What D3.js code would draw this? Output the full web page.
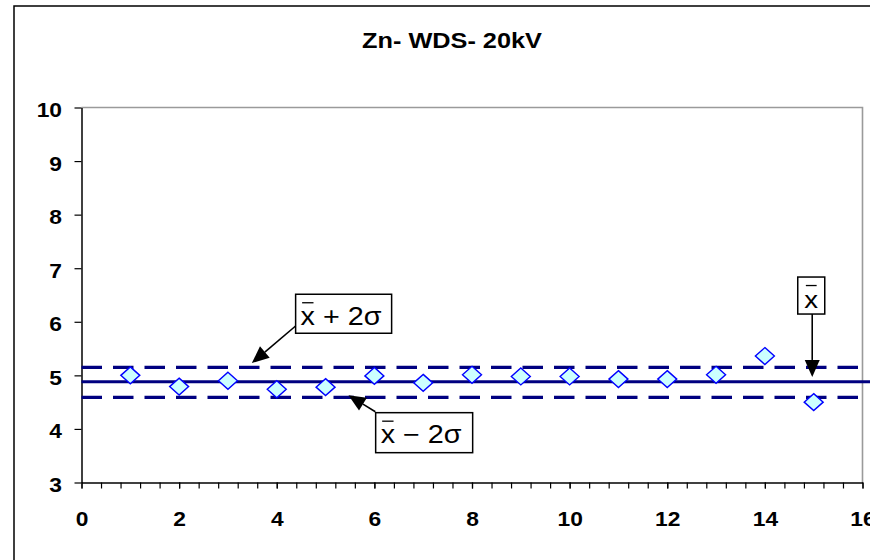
<!DOCTYPE html>
<html><head><meta charset="utf-8">
<script src="https://cdn.jsdelivr.net/npm/d3@7"></script>
<style>
body{margin:0;background:#fff}
svg{display:block}
text{font-family:"Liberation Sans",Arial,sans-serif;fill:#000}
</style>
</head><body>
<svg id="c" width="870" height="560"></svg>
<script>
// ---- data ----
const chartTitle = "Zn- WDS- 20kV";
const runs = [1, 2, 3, 4, 5, 6, 7, 8, 9, 10, 11, 12, 13, 14, 15];
const values = [5.00, 4.79, 4.90, 4.74, 4.78, 4.99, 4.86, 5.01, 4.98, 4.98, 4.93, 4.93, 5.01, 5.36, 4.50];
const meanValue = 4.88;
const upperValue = 5.15;
const lowerValue = 4.59;
const xTickValues = [0, 2, 4, 6, 8, 10, 12, 14, 16];
const yTickValues = [3, 4, 5, 6, 7, 8, 9, 10];
const xMinorStep = 0.4;
const annotationLabels = ["+ 2σ", "− 2σ", ""];
const annotationBoxCenters = [[5.37, 6.15], [7.02, 3.93], [14.95, 6.49]];
const annotationArrowFrom = [[4.41, 5.94], [6.02, 4.32], [14.97, 6.15]];
const annotationArrowTo = [[3.49, 5.23], [5.47, 4.63], [14.97, 4.97]];

// ---- setup ----
const W = 870, H = 560;
const svg = d3.select("#c");
const x = d3.scaleLinear().domain([0, 16]).range([81.5, 862.5]);
const y = d3.scaleLinear().domain([3, 10]).range([482.5, 107.5]);
const SX = 1.14;

// outer chart border (extends past the window)
svg.append("rect").attr("x", 14).attr("y", 6).attr("width", W + 40).attr("height", H + 40)
  .attr("fill", "#fff").attr("stroke", "#000").attr("stroke-width", 1.5);

// plot area border (grey top & right)
svg.append("path")
  .attr("d", `M${x(0)},${y(10)}H${x(16)}V${y(3)}`)
  .attr("fill", "none").attr("stroke", "#9a9a9a").attr("stroke-width", 1.6);

function stretchedText(px, py, str, size, weight, anchor, sx) {
  const g = svg.append("g").attr("transform", `translate(${px},${py}) scale(${sx},1)`);
  return g.append("text").attr("text-anchor", anchor).attr("font-size", size)
    .attr("font-weight", weight).text(str);
}

// title
stretchedText(452, 48, chartTitle, 22, "bold", "middle", 1.15);

// y axis
const yAxis = svg.append("g").attr("transform", `translate(${x(0)},0)`)
  .call(d3.axisLeft(y).tickValues(yTickValues).tickSize(7).tickSizeOuter(0).tickFormat(d3.format("d")));
yAxis.select(".domain").attr("stroke", "#000").attr("stroke-width", 1.5);
yAxis.selectAll(".tick line").attr("stroke", "#000").attr("stroke-width", 1.2);
yAxis.selectAll(".tick text")
  .attr("font-size", 20).attr("font-weight", "bold").attr("font-family", '"Liberation Sans",Arial,sans-serif')
  .attr("fill", "#000").attr("x", -19.5 / SX).attr("dy", "0.45em")
  .attr("transform", `scale(${SX},1)`);

// x axis minor ticks
const xMinor = d3.range(0, 16 + 1e-9, xMinorStep);
const xAxisMinor = svg.append("g").attr("transform", `translate(0,${y(3)})`)
  .call(d3.axisBottom(x).tickValues(xMinor).tickSize(6).tickSizeOuter(0).tickFormat(""));
xAxisMinor.select(".domain").attr("stroke", "#000").attr("stroke-width", 1.5);
xAxisMinor.selectAll(".tick line").attr("stroke", "#000").attr("stroke-width", 1.2);

// x axis major labels
const xAxisMajor = svg.append("g").attr("transform", `translate(0,${y(3)})`)
  .call(d3.axisBottom(x).tickValues(xTickValues).tickSize(6).tickSizeOuter(0).tickFormat(d3.format("d")));
xAxisMajor.select(".domain").remove();
xAxisMajor.selectAll(".tick line").attr("stroke", "#000").attr("stroke-width", 1.2);
xAxisMajor.selectAll(".tick text")
  .attr("font-size", 20).attr("font-weight", "bold").attr("font-family", '"Liberation Sans",Arial,sans-serif')
  .attr("fill", "#000").attr("y", 43.5).attr("dy", 0)
  .attr("transform", `scale(${SX},1)`);

// reference lines
const navy = "#000080";
svg.append("line").attr("x1", x(0)).attr("x2", W).attr("y1", y(meanValue)).attr("y2", y(meanValue))
  .attr("stroke", navy).attr("stroke-width", 3);
[upperValue, lowerValue].forEach(v => {
  svg.append("line").attr("x1", x(0)).attr("x2", x(16)).attr("y1", y(v)).attr("y2", y(v))
    .attr("stroke", navy).attr("stroke-width", 3.2).attr("stroke-dasharray", "20.5,11");
});

// points
svg.append("g").selectAll("path").data(runs.map((r, i) => [r, values[i]])).join("path")
  .attr("transform", d => `translate(${x(d[0])},${y(d[1])})`)
  .attr("d", "M0,-8.5L9.5,0L0,8.5L-9.5,0Z")
  .attr("fill", "#CCFFFF").attr("stroke", "#0000FF").attr("stroke-width", 1.4);

// annotations
const boxSizes = [[96, 39], [97, 40], [27, 37]];
annotationLabels.forEach((lab, i) => {
  // arrow
  const [fx, fy] = [x(annotationArrowFrom[i][0]), y(annotationArrowFrom[i][1])];
  const [tx, ty] = [x(annotationArrowTo[i][0]), y(annotationArrowTo[i][1])];
  const ang = Math.atan2(ty - fy, tx - fx);
  const hl = 17, hw = 7.5;
  const bx = tx - hl * Math.cos(ang), by = ty - hl * Math.sin(ang);
  svg.append("line").attr("x1", fx).attr("y1", fy).attr("x2", bx).attr("y2", by)
    .attr("stroke", "#000").attr("stroke-width", 1.6);
  const px = -Math.sin(ang), py = Math.cos(ang);
  svg.append("path")
    .attr("d", `M${tx},${ty}L${bx + hw * px},${by + hw * py}L${bx - hw * px},${by - hw * py}Z`)
    .attr("fill", "#000");

  // box
  const [cx, cy] = [x(annotationBoxCenters[i][0]), y(annotationBoxCenters[i][1])];
  const [bw, bh] = boxSizes[i];
  const left = cx - bw / 2, top = cy - bh / 2;
  svg.append("rect").attr("x", left).attr("y", top).attr("width", bw).attr("height", bh)
    .attr("fill", "#fff").attr("stroke", "#000").attr("stroke-width", 1.5);

  const fs = lab ? 25 : 24;
  const str = lab ? "x " + lab : "x";
  const tX = lab ? left + 5 : cx;
  const anchor = lab ? "start" : "middle";
  const t = stretchedText(tX, top + 30.5, str, fs, "normal", anchor, 1.15);
  const xw = t.node().getSubStringLength(0, 1) * 1.15;
  const xStart = lab ? tX : cx - xw / 2;
  svg.append("line").attr("x1", xStart + 1.5).attr("x2", xStart + xw - 1.5)
    .attr("y1", top + 8.5).attr("y2", top + 8.5)
    .attr("stroke", "#000").attr("stroke-width", 1.3);
});
</script>
</body></html>
